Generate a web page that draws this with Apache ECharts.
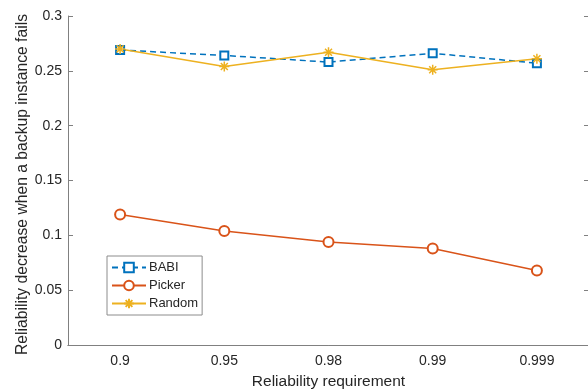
<!DOCTYPE html>
<html>
<head>
<meta charset="utf-8">
<script src="https://cdn.jsdelivr.net/npm/echarts@6/dist/echarts.min.js"></script>
<style>
  html, body { margin: 0; padding: 0; background: #fff; }
  #chart { width: 588px; height: 390px; }
</style>
</head>
<body>
<div id="chart"></div>
<script>
const categories = ['0.9', '0.95', '0.98', '0.99', '0.999']
const babi = [0.269, 0.264, 0.258, 0.266, 0.257]
const picker = [0.119, 0.104, 0.094, 0.088, 0.068]
const random = [0.270, 0.254, 0.267, 0.251, 0.261]
const yTicks = [0, 0.05, 0.1, 0.15, 0.2, 0.25, 0.3]

const axisGrey = '#808080'
const textDark = '#262626'
const font = 'Liberation Sans, Arial, sans-serif'
// asterisk marker like matlab '*'
const asterisk = 'path://M5 0L5 10M0 5L10 5M1.5 1.5L8.5 8.5M8.5 1.5L1.5 8.5'

const chart = echarts.init(document.getElementById('chart'))

const option = {
  animation: false,
  textStyle: { fontFamily: font },
  grid: { left: 68, top: 16, width: 521, height: 329, outerBoundsMode: 'none', containLabel: false },
  legend: {
    orient: 'vertical',
    left: 107,
    top: 256,
    padding: [5, 4, 5, 4],
    itemGap: 5,
    itemWidth: 34,
    itemHeight: 12,
    borderColor: '#8c8c8c',
    borderWidth: 1,
    backgroundColor: '#fff',
    textStyle: { fontSize: 13, color: textDark, padding: [0, 0, 0, -2] },
    data: ['BABI', 'Picker', 'Random']
  },
  xAxis: [{
    type: 'category',
    data: categories,
    boundaryGap: true,
    name: 'Reliability requirement',
    nameLocation: 'middle',
    nameGap: 29,
    nameTextStyle: { fontSize: 15.5, color: textDark },
    axisLine: { lineStyle: { color: axisGrey } },
    axisTick: { inside: true, alignWithLabel: true, length: 5, lineStyle: { color: axisGrey } },
    axisLabel: { fontSize: 14, color: textDark, margin: 9 }
  }, {
    type: 'category',
    data: categories,
    position: 'top',
    boundaryGap: true,
    axisLine: { lineStyle: { color: axisGrey } },
    axisTick: { inside: true, alignWithLabel: true, length: 5, lineStyle: { color: axisGrey } },
    axisLabel: { show: false }
  }],
  yAxis: [{
    type: 'value',
    min: 0,
    max: 0.3,
    interval: 0.05,
    name: 'Reliability decrease when a backup instance fails',
    nameLocation: 'middle',
    nameGap: 37,
    nameMoveOverlap: false,
    nameTextStyle: { fontSize: 15.7, color: textDark, padding: [0, 8, 0, 0] },
    axisLine: { show: true, lineStyle: { color: axisGrey } },
    axisTick: { show: true, inside: true, length: 5, lineStyle: { color: axisGrey } },
    axisLabel: {
      fontSize: 14, color: textDark, margin: 6,
      formatter: v => yTicks.some(t => Math.abs(t - v) < 1e-9) ? String(+v.toFixed(2)) : ''
    },
    splitLine: { show: false }
  }, {
    type: 'value',
    min: 0,
    max: 0.3,
    interval: 0.05,
    position: 'right',
    axisLine: { show: true, lineStyle: { color: axisGrey } },
    axisTick: { show: true, inside: true, length: 5, lineStyle: { color: axisGrey } },
    axisLabel: { show: false },
    splitLine: { show: false }
  }],
  series: [{
    name: 'BABI',
    type: 'line',
    data: babi,
    symbol: 'emptyRect',
    symbolSize: 8,
    color: '#0072BD',
    lineStyle: { width: 1.5, type: [6, 4] },
    itemStyle: { borderWidth: 1.5 }
  }, {
    name: 'Picker',
    type: 'line',
    data: picker,
    symbol: 'emptyCircle',
    symbolSize: 10,
    color: '#D95319',
    lineStyle: { width: 1.5 },
    itemStyle: { borderWidth: 1.5 }
  }, {
    name: 'Random',
    type: 'line',
    data: random,
    symbol: asterisk,
    symbolSize: 10,
    color: '#EDB120',
    lineStyle: { width: 1.5 },
    itemStyle: { color: '#EDB120', borderColor: '#EDB120', borderWidth: 1.5 }
  }]
}

chart.setOption(option)
</script>
</body>
</html>
